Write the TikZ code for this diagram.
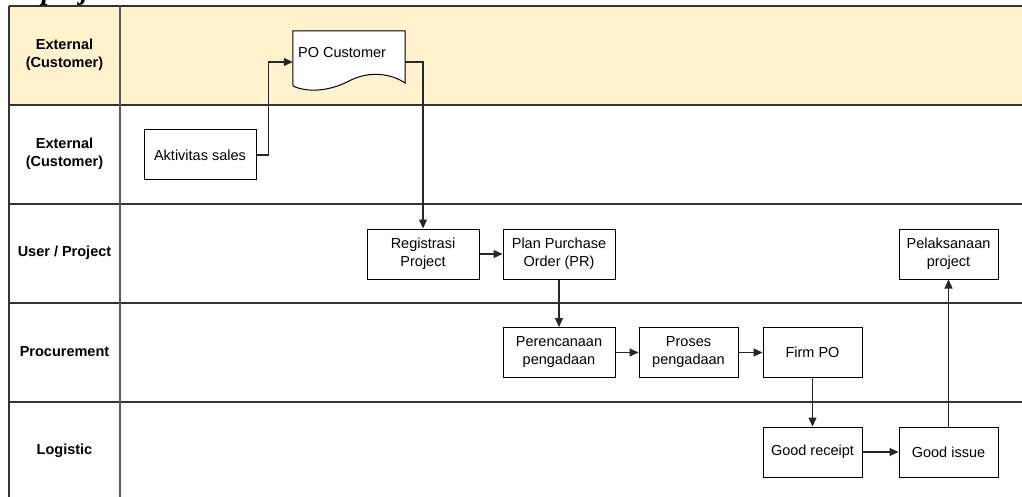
\documentclass[tikz,border=0pt]{standalone}
\usepackage{fontspec}
\setmainfont{Liberation Sans}
\newfontfamily\capfont{Liberation Serif}
\usetikzlibrary{arrows.meta}
\definecolor{laneyellow}{HTML}{FFF2CC}
\begin{document}
\begin{tikzpicture}[x=1pt,y=-1pt,
  font=\fontsize{14.5}{18}\selectfont,
  box/.style={draw=black, line width=1pt, fill=white, align=center, inner sep=0pt, minimum height=50pt},
  wbox/.style={box, minimum width=112pt},
  nbox/.style={box, minimum width=99pt},
  lanelabel/.style={font=\fontsize{14.5}{18}\selectfont\bfseries, align=center, inner sep=0pt},
  flow/.style={draw=black!85, line width=1.1pt, -{Triangle[length=9pt,width=8pt]}},
  laneline/.style={draw=black!80, line width=1.2pt}]
\clip (0,0) rectangle (1022,497);
\useasboundingbox (0,0) rectangle (1022,497);
\fill[white] (0,0) rectangle (1022,497);
% caption fragment
\node[anchor=base west, inner sep=0pt, font=\capfont\fontsize{28}{28}\selectfont\bfseries\itshape] (cap) at (5,-0.5) {ial project};
% lanes
\fill[laneyellow] (9,6) rectangle (1030,105);
\foreach \y in {6,105,204,303,402} {\draw[laneline] (9,\y) -- (1030,\y);}
\draw[laneline] (9,6) -- (9,505);
\draw[laneline, draw=black!65] (120,6) -- (120,505);
% lane labels
\node[lanelabel] (l1) at (64.5,55) {External\\(Customer)};
\node[lanelabel] (l2) at (64.5,154) {External\\(Customer)};
\node[lanelabel] (l3) at (64.5,253) {User / Project};
\node[lanelabel] (l4) at (64.5,352) {Procurement};
\node[lanelabel] (l5) at (64.5,451) {Logistic};
% PO customer document
\node[minimum width=112pt, minimum height=62pt, inner sep=0pt] (po) at (349,62) {};
\draw[line width=1pt, fill=white] (po.north west) -- (po.north east) -- (405,83)
  .. controls (392,74) and (370,70) .. (349,81)
  .. controls (330,91) and (308,93) .. (293,86) -- cycle;
\node[anchor=west, inner sep=0pt] (potext) at (298,53) {PO Customer};
% boxes
\node[wbox] (akt) at (200,155) {Aktivitas sales};
\node[wbox] (reg) at (423,254) {Registrasi\\Project};
\node[wbox] (plan) at (559,254) {Plan Purchase\\Order (PR)};
\node[wbox] (per) at (559,352.5) {Perencanaan\\pengadaan};
\node[nbox] (pros) at (688.5,352.5) {Proses\\pengadaan};
\node[nbox] (firm) at (812.5,352.5) {Firm PO};
\node[nbox] (gr) at (812.5,452) {Good receipt};
\node[nbox] (gi) at (948.5,452) {Good issue};
\node[nbox] (pel) at (948.5,254) {Pelaksanaan\\project};
% connectors
\draw[flow] (akt.east) -- ++(12,0) |- (po.west);
\draw[flow] (po.east) -| (reg.north);
\draw[flow] (reg) -- (plan);
\draw[flow] (plan) -- (per);
\draw[flow] (per) -- (pros);
\draw[flow] (pros) -- (firm);
\draw[flow] (firm) -- (gr);
\draw[flow] (gr) -- (gi);
\draw[flow] (gi) -- (pel);
\end{tikzpicture}
\end{document}
